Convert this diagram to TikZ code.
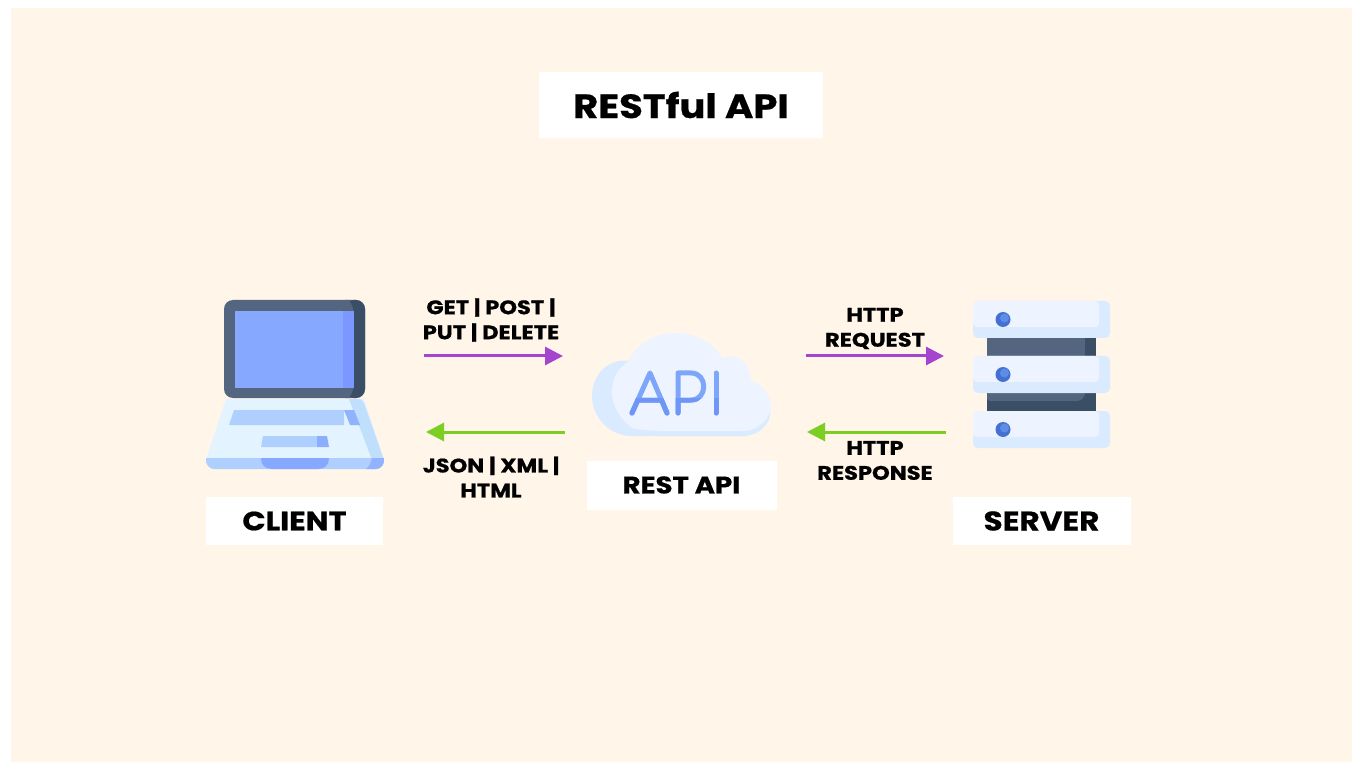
\documentclass[tikz,border=0pt]{standalone}
\usepackage{fontspec}
\setmainfont{Poppins}[BoldFeatures={FakeStretch=1.15,FakeBold=0.7}]
\usetikzlibrary{arrows.meta}
\definecolor{cream}{HTML}{FFF5E9}
\definecolor{slate}{HTML}{54657F}
\definecolor{slated}{HTML}{3A4E66}
\definecolor{screen}{HTML}{86A8FF}
\definecolor{screend}{HTML}{7C97FF}
\definecolor{kb}{HTML}{E3F3FF}
\definecolor{kbd}{HTML}{C0DFFC}
\definecolor{keys}{HTML}{AFCFFF}
\definecolor{cloudl}{HTML}{EDF4FF}
\definecolor{cloudd}{HTML}{DAEAFF}
\definecolor{apic}{HTML}{7DA6FA}
\definecolor{apid}{HTML}{6F96F6}
\definecolor{dot}{HTML}{4470D2}
\definecolor{dotl}{HTML}{5E8CE6}
\definecolor{purp}{HTML}{A544CF}
\definecolor{grn}{HTML}{7ACF22}
\tikzset{
  x=1pt,y=-1pt,
  titlebox/.style={fill=white,inner sep=0pt,font=\bfseries\fontsize{33.5}{34}\selectfont,text=black},
  namebox/.style={fill=white,inner sep=0pt,font=\bfseries\fontsize{26.5}{27}\selectfont,text=black},
  lbl/.style={align=center,inner sep=0pt,font=\bfseries\fontsize{19.6}{25}\selectfont,text=black},
  req/.style={draw=purp,line width=3pt,-{Triangle[length=18pt,width=18pt]}},
  resp/.style={draw=grn,line width=3pt,-{Triangle[length=18pt,width=18pt]}},
  apistroke/.style={line width=5pt,line cap=round,line join=round},
  apiglyph/.pic={
    \draw[apistroke,draw=#1] (632,413) -- (650,373) -- (667,413) (638,400) -- (661,400);
    \draw[apistroke,draw=#1] (678,413) -- (678,373) -- (691,373) .. controls (708,373) and (708,400) .. (691,400) -- (678,400);
    \draw[apistroke,draw=#1] (716,373) -- (716,413);
  },
}
\begin{document}
\begin{tikzpicture}
\useasboundingbox (0,0) rectangle (1358,767);
\fill[white] (0,0) rectangle (1358,767);
\fill[cream] (11,8) rectangle (1352,762);

% title
\node[titlebox,minimum width=284pt,minimum height=66pt] (title) at (681,105) {\raisebox{-1pt}{RESTful API}};

% laptop
\begin{scope}
\fill[kb] (226,399) -- (364,399) -- (384,460) -- (206,460) -- cycle;
\fill[kbd] (349,399) -- (358,399) .. controls (361,399) and (363,400) .. (364,403) -- (384,460) -- (372,460) -- cycle;
\fill[keys] (206,458) -- (384,458) .. controls (385,464) and (381,469) .. (376,469) -- (214,469) .. controls (209,469) and (205,464) .. (206,458) -- cycle;
\fill[screen!75!keys] (372,458) -- (384,458) .. controls (385,464) and (381,469) .. (376,469) -- (366,469) .. controls (369,467) and (371,463) .. (372,458) -- cycle;
\fill[screen] (261,458) -- (329,458) .. controls (329,465) and (325,469) .. (318,469) -- (272,469) .. controls (265,469) and (261,465) .. (261,458) -- cycle;
\fill[keys] (234,410) -- (344,410) -- (344,425) -- (229,425) -- cycle;
\fill[screen!75!keys] (344,410) -- (354,410) -- (360,425) -- (350,425) -- cycle;
\fill[keys] (263,436) -- (317,436) -- (317,447) -- (261,447) -- cycle;
\fill[screen!85!keys] (317,436) -- (327,436) -- (329,447) -- (317,447) -- cycle;
\fill[slate,rounded corners=9pt] (224,300) rectangle (365,398);
\fill[slated,rounded corners=9pt] (345,300) rectangle (365,398);
\fill[slate] (345,300) -- (349,300) .. controls (352,305) and (354,310) .. (354,315) -- (354,383) .. controls (354,388) and (352,394) .. (349,398) -- (345,398) -- cycle;
\fill[screen] (235,311) rectangle (343,388);
\fill[screend] (343,311) rectangle (354,388);
\end{scope}

% cloud
\begin{scope}
\fill[cloudd] (632,436) .. controls (610,436) and (592,418) .. (592,396) .. controls (592,374) and (609,358) .. (629,361) -- (680,380) -- (745,436) -- cycle;
\fill[cloudl] (628,362) .. controls (636,343) and (656,333) .. (675,333) .. controls (697,333) and (715,344) .. (722,358) .. controls (738,352) and (750,362) .. (751,381) .. controls (763,384) and (771,395) .. (771,408) .. controls (771,424) and (758,436) .. (743,436) -- (660,436) .. controls (630,436) and (612,412) .. (612,392) .. controls (612,378) and (618,368) .. (628,362) -- cycle;
\fill[cloudd] (745,431) .. controls (755,431) and (767,422) .. (770,412) .. controls (771,424) and (758,436) .. (743,436) -- (660,436) .. controls (650,436) and (640,433) .. (632,428) .. controls (640,430) and (650,431) .. (660,431) -- cycle;
\pic {apiglyph=apic};
\begin{scope}
\clip (620,398) rectangle (730,420);
\pic {apiglyph=apid};
\end{scope}
\end{scope}

% server
\begin{scope}
\fill[slate] (987,337) rectangle (1096,357);
\fill[slated] (1085,337) rectangle (1096,357);
\fill[slated] (987,392) rectangle (1096,412);
\fill[slate,rounded corners=3pt] (987,392) -- (1085,392) -- (1085,396) -- (1080,401) -- (987,401) -- cycle;
\foreach \y in {301,356,411}{
  \fill[cloudd,rounded corners=5pt] (973,\y) rectangle (1110,\y+37);
  \fill[cloudl,rounded corners=4pt] (973,\y) rectangle (1099,\y+26);
  \fill[dot] (1003,\y+18.5) circle (7.5pt);
  \fill[dotl] (1004.5,\y+17) circle (4.5pt);
}
\end{scope}

% captions
\node[namebox,minimum width=177pt,minimum height=48pt] (client) at (294.5,521) {\raisebox{-1.5pt}{CLIENT}};
\node[namebox,minimum width=190pt,minimum height=49pt,font=\bfseries\fontsize{24}{25}\selectfont] (rest) at (681.5,485) {\raisebox{-1pt}{REST API}};
\node[namebox,minimum width=178pt,minimum height=48pt,font=\bfseries\fontsize{27}{27}\selectfont] (server) at (1041.5,521) {\raisebox{-1.5pt}{SERVER}};

% connector labels
\node[lbl] (l1) at (491,320) {GET | POST |\\PUT | DELETE};
\node[lbl] (l2) at (491,477) {JSON | XML |\\HTML};
\node[lbl] (l3) at (875,328.5) {HTTP\\REQUEST};
\node[lbl] (l4) at (875,460.5) {HTTP\\RESPONSE};

% arrows
\coordinate (a1s) at (424,356); \coordinate (a1e) at (563,356);
\coordinate (a2s) at (565,432); \coordinate (a2e) at (426,432);
\coordinate (a3s) at (806,356); \coordinate (a3e) at (944,356);
\coordinate (a4s) at (946,432); \coordinate (a4e) at (807,432);
\draw[req] (a1s) -- (a1e);
\draw[resp] (a2s) -- (a2e);
\draw[req] (a3s) -- (a3e);
\draw[resp] (a4s) -- (a4e);
\end{tikzpicture}
\end{document}
